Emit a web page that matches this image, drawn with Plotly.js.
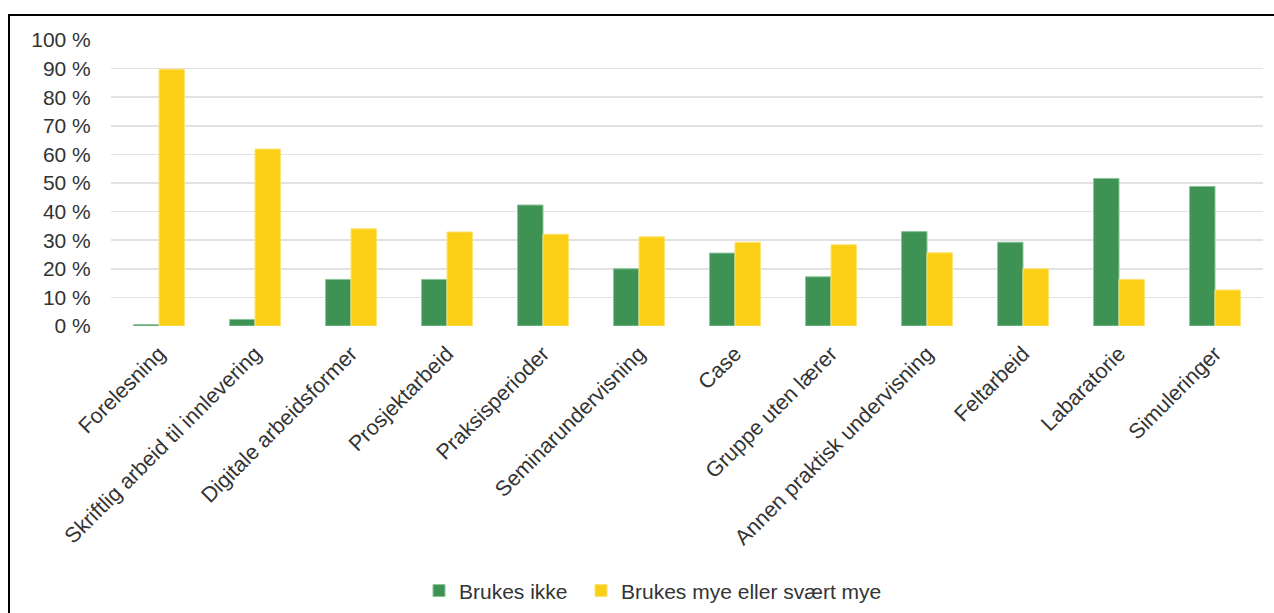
<!DOCTYPE html>
<html>
<head>
<meta charset="utf-8">
<script src="https://cdn.plot.ly/plotly-3.0.1.min.js"></script>
<style>
  html, body { margin: 0; padding: 0; background: #fff; }
  #wrap { position: relative; width: 1274px; height: 613px; overflow: hidden; }
  #chart { position: absolute; left: 0; top: 0; width: 1274px; height: 613px; }
  #frame { position: absolute; left: 8px; top: 14px; width: 1280px; height: 620px;
           border-left: 2px solid #000; border-top: 2px solid #000; pointer-events: none; }
</style>
</head>
<body>
<div id="wrap">
  <div id="chart"></div>
  <div id="frame"></div>
</div>
<script>
const categories = [
  "Forelesning",
  "Skriftlig arbeid til innlevering",
  "Digitale arbeidsformer",
  "Prosjektarbeid",
  "Praksisperioder",
  "Seminarundervisning",
  "Case",
  "Gruppe uten lærer",
  "Annen praktisk undervisning",
  "Feltarbeid",
  "Labaratorie",
  "Simuleringer"
];
const seriesNames = ["Brukes ikke", "Brukes mye eller svært mye"];
const brukesIkke = [0.5, 2.3, 16.3, 16.3, 42.3, 20.0, 25.5, 17.2, 33.0, 29.3, 51.6, 48.8];
const brukesMye = [89.8, 61.9, 34.0, 32.9, 32.1, 31.2, 29.3, 28.4, 25.6, 20.0, 16.3, 12.6];
const yTicks = [0, 10, 20, 30, 40, 50, 60, 70, 80, 90, 100];

const green = "#3e9253";
const yellow = "#fccf17";
const fontFam = "Liberation Sans, Arial, sans-serif";
const txt = "#333333";

const traces = [
  { type: "bar", name: seriesNames[0], x: categories, y: brukesIkke, legend: "legend",
    marker: { color: green, line: { color: "#8cc59a", width: 1 } }, hoverinfo: "skip" },
  { type: "bar", name: seriesNames[1], x: categories, y: brukesMye, legend: "legend2",
    marker: { color: yellow, line: { color: "#fde27a", width: 1 } }, hoverinfo: "skip" }
];

const legendBase = {
  orientation: "h", xref: "container", yref: "container",
  xanchor: "left", y: 0.036, yanchor: "middle",
  font: { family: fontFam, size: 21, color: txt }, itemwidth: 30
};

const layout = {
  width: 1274, height: 613,
  margin: { l: 111, r: 11, t: 40, b: 287, pad: 0 },
  paper_bgcolor: "#ffffff", plot_bgcolor: "#ffffff",
  barmode: "group", bargap: 0.47, bargroupgap: 0,
  font: { family: fontFam, color: txt, size: 20 },
  showlegend: true,
  legend: Object.assign({}, legendBase, { x: (461 - 42) / 1274 }),
  legend2: Object.assign({}, legendBase, { x: (623 - 42) / 1274 }),
  xaxis: { type: "category", tickangle: -45, showgrid: false, zeroline: false,
           showline: false, ticks: "", automargin: false, ticklabelstandoff: 10,
           tickfont: { family: fontFam, size: 21.5, color: txt } },
  yaxis: { range: [0, 100], tickvals: yTicks, ticktext: yTicks.map(v => v + " %"),
           showgrid: true, gridcolor: "#e2e2e2", gridwidth: 1.5, zeroline: false,
           showline: false, ticks: "outside", ticklen: 15, tickcolor: "rgba(0,0,0,0)",
           automargin: false,
           tickfont: { family: fontFam, size: 21, color: txt } }
};

Plotly.newPlot("chart", traces, layout, { displayModeBar: false, staticPlot: true });
</script>
</body>
</html>
